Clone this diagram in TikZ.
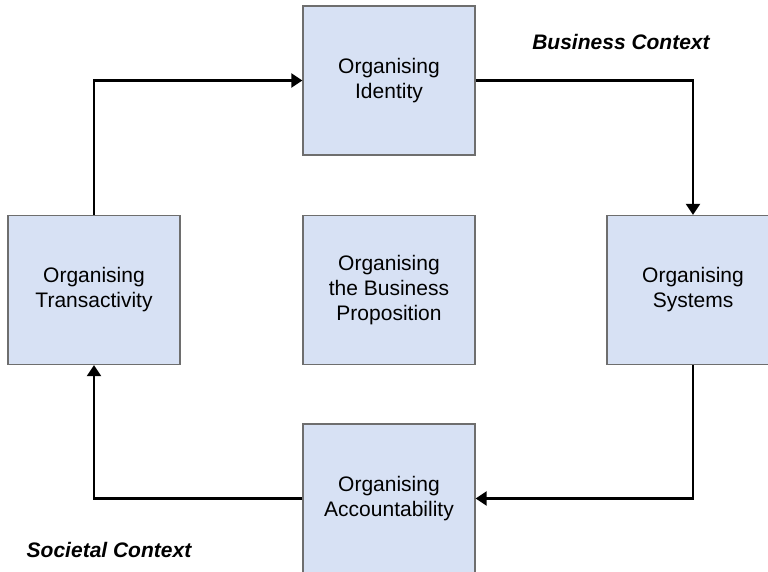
\documentclass[tikz,border=0pt]{standalone}
\usepackage{fontspec}
\setmainfont{Liberation Sans}
\usetikzlibrary{arrows.meta}
\definecolor{boxfill}{HTML}{D7E1F4}
\definecolor{boxline}{HTML}{6E6E6E}
\tikzset{
  orgbox/.style={draw=boxline, line width=1.3pt, fill=boxfill, minimum width=172pt, minimum height=149pt,
    inner sep=0pt, align=center, font=\fontsize{21}{25}\selectfont},
  flow/.style={draw=black, line width=2.4pt, -{Triangle[length=11pt,width=14pt]}},
  ctx/.style={font=\fontsize{21}{25}\selectfont\bfseries\itshape}
}
\begin{document}
\begin{tikzpicture}[x=1pt,y=-1pt]
\useasboundingbox (0,0) rectangle (768,572);
\clip (0,0) rectangle (768,572);
\node[orgbox] (ident) at (389,80.5) {Organising\\Identity};
\node[orgbox] (trans) at (94,290) {Organising\\Transactivity};
\node[orgbox] (prop) at (389,290) {Organising\\the Business\\Proposition};
\node[orgbox] (sys) at (693,290) {Organising\\Systems};
\node[orgbox] (acc) at (389,498.5) {Organising\\Accountability};
\node[ctx] (bc) at (621,42) {Business Context};
\node[ctx] (sc) at (109,550) {Societal Context};
\draw[flow] (trans.north) |- (ident.west);
\draw[flow] (ident.east) -| (sys.north);
\draw[flow] (sys.south) |- (acc.east);
\draw[flow] (acc.west) -| (trans.south);
\end{tikzpicture}
\end{document}
